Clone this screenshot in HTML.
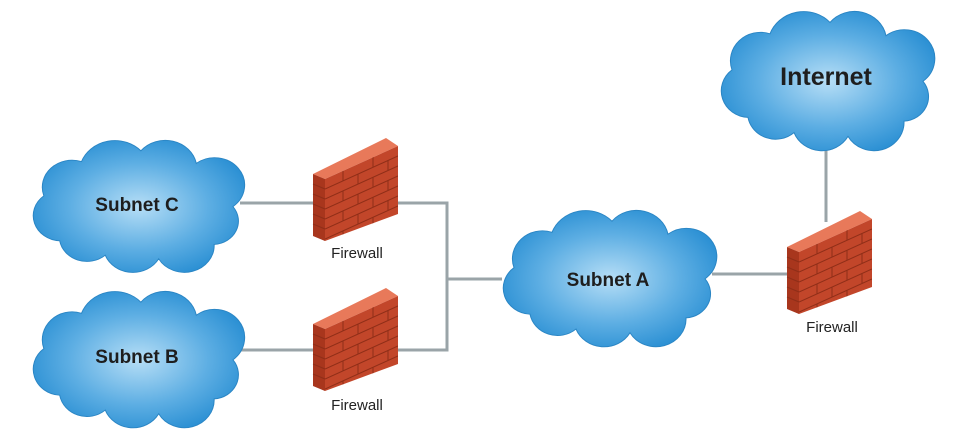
<!DOCTYPE html>
<html><head><meta charset="utf-8"><style>html,body{margin:0;padding:0;background:#fff;}svg{display:block}</style></head><body>
<svg width="965" height="436" viewBox="0 0 965 436" xmlns="http://www.w3.org/2000/svg">
<defs>
<radialGradient id="cg" cx="0.5" cy="0.5" r="0.6">
<stop offset="0" stop-color="#b6def6"/><stop offset="0.55" stop-color="#5daee3"/><stop offset="1" stop-color="#2089d0"/>
</radialGradient>
<path id="cloud" d="M30,112 A28,28 0 0 1 14,62 A30,30 0 0 1 52,24 A36,36 0 0 1 112,12 A32,32 0 0 1 168,26 A30,30 0 0 1 205,74 A26,26 0 0 1 186,116 A30,30 0 0 1 130,132 A30,30 0 0 1 76,128 A28,28 0 0 1 30,112 Z" fill="url(#cg)" stroke="#2a85c4" stroke-width="1"/>
<clipPath id="fc"><polygon points="12,42 85,9 85,77 12,104"/></clipPath>
<g id="fw">
<polygon points="0,37 73,1 85,9 12,42" fill="#e8795a"/>
<polygon points="0,37 12,42 12,104 0,99" fill="#a8361d"/>
<polygon points="12,42 85,9 85,77 12,104" fill="#c2462a"/>
<g clip-path="url(#fc)" stroke="#8f2e18" stroke-width="1">
<line x1="12" y1="52" x2="85" y2="19"/><line x1="12" y1="62" x2="85" y2="29"/><line x1="12" y1="72" x2="85" y2="39"/><line x1="12" y1="82" x2="85" y2="49"/><line x1="12" y1="92" x2="85" y2="59"/><line x1="12" y1="102" x2="85" y2="69"/>
<line x1="30" y1="34" x2="30" y2="44"/><line x1="60" y1="20" x2="60" y2="30"/><line x1="45" y1="37" x2="45" y2="47"/><line x1="75" y1="23" x2="75" y2="33"/>
<line x1="30" y1="54" x2="30" y2="64"/><line x1="60" y1="40" x2="60" y2="50"/><line x1="45" y1="57" x2="45" y2="67"/><line x1="75" y1="43" x2="75" y2="53"/>
<line x1="30" y1="74" x2="30" y2="84"/><line x1="60" y1="60" x2="60" y2="70"/><line x1="45" y1="77" x2="45" y2="87"/><line x1="75" y1="63" x2="75" y2="73"/>
<line x1="30" y1="94" x2="30" y2="104"/><line x1="60" y1="80" x2="60" y2="90"/>
</g>
<g stroke="#8f2e18" stroke-width="1"><line x1="0" y1="47" x2="12" y2="52"/><line x1="0" y1="57" x2="12" y2="62"/><line x1="0" y1="67" x2="12" y2="72"/><line x1="0" y1="77" x2="12" y2="82"/><line x1="0" y1="87" x2="12" y2="92"/></g>
</g>
</defs>
<g stroke="#9aa4a8" stroke-width="3" fill="none">
<line x1="240" y1="203" x2="313" y2="203"/>
<polyline points="398,203 447,203 447,350 398,350"/>
<line x1="240" y1="350" x2="313" y2="350"/>
<line x1="447" y1="279" x2="502" y2="279"/>
<line x1="712" y1="274" x2="787" y2="274"/>
<line x1="826" y1="150" x2="826" y2="222"/>
</g>
<use href="#cloud" transform="translate(30,140) scale(0.99,0.9)"/>
<use href="#cloud" transform="translate(30,291) scale(0.99,0.93)"/>
<use href="#cloud" transform="translate(500,210) scale(1.0,0.93)"/>
<use href="#cloud" transform="translate(718,11) scale(1.0,0.95)"/>
<use href="#fw" transform="translate(313,137)"/>
<use href="#fw" transform="translate(313,287)"/>
<use href="#fw" transform="translate(787,210)"/>
<g font-family="Liberation Sans, sans-serif" font-weight="bold" fill="#1e1e1e" text-anchor="middle">
<text x="137" y="211" font-size="19">Subnet C</text>
<text x="137" y="363" font-size="19">Subnet B</text>
<text x="608" y="286" font-size="19">Subnet A</text>
<text x="826" y="85" font-size="25">Internet</text>
</g>
<g font-family="Liberation Sans, sans-serif" fill="#222" text-anchor="middle" font-size="15">
<text x="357" y="258">Firewall</text>
<text x="357" y="410">Firewall</text>
<text x="832" y="332">Firewall</text>
</g>
</svg>
</body></html>
